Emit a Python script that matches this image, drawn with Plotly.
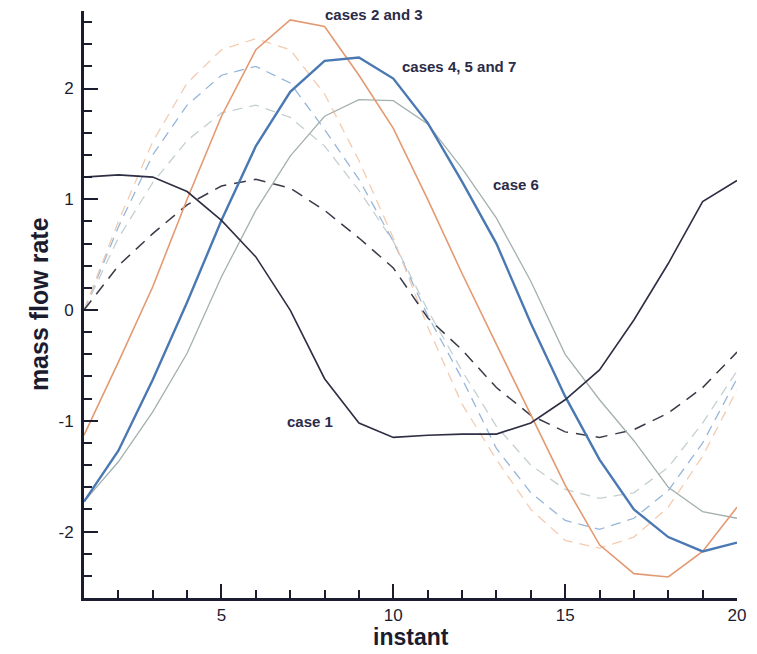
import plotly.graph_objects as go

instant = list(range(1, 21))

case1 = [1.20, 1.22, 1.20, 1.07, 0.81, 0.48, 0.00, -0.62, -1.02, -1.15,
         -1.13, -1.12, -1.12, -1.02, -0.81, -0.54, -0.09, 0.42, 0.98, 1.17]
cases23 = [-1.13, -0.47, 0.21, 1.00, 1.75, 2.35, 2.62, 2.56, 2.12, 1.64,
           1.00, 0.33, -0.31, -0.95, -1.58, -2.12, -2.38, -2.41, -2.18, -1.78]
cases457 = [-1.73, -1.27, -0.63, 0.07, 0.81, 1.48, 1.97, 2.25, 2.28, 2.09,
            1.69, 1.16, 0.60, -0.12, -0.78, -1.35, -1.80, -2.05, -2.18, -2.10]
case6 = [-1.73, -1.37, -0.92, -0.39, 0.30, 0.90, 1.39, 1.75, 1.90, 1.89,
         1.68, 1.28, 0.83, 0.26, -0.40, -0.81, -1.18, -1.60, -1.82, -1.88]
dash_black = [0.00, 0.40, 0.69, 0.95, 1.12, 1.18, 1.10, 0.90, 0.65, 0.38,
              -0.07, -0.36, -0.70, -0.95, -1.10, -1.15, -1.08, -0.93, -0.70, -0.38]
dash_orange = [0.00, 0.80, 1.52, 2.05, 2.35, 2.45, 2.35, 1.95, 1.35, 0.65,
               -0.15, -0.85, -1.35, -1.80, -2.08, -2.15, -2.05, -1.78, -1.32, -0.72]
dash_blue = [0.00, 0.75, 1.40, 1.85, 2.12, 2.20, 2.05, 1.63, 1.18, 0.62,
             -0.05, -0.62, -1.25, -1.65, -1.90, -1.98, -1.88, -1.63, -1.20, -0.62]
dash_grey = [0.00, 0.65, 1.15, 1.53, 1.78, 1.85, 1.74, 1.48, 1.08, 0.62,
             0.00, -0.55, -1.05, -1.40, -1.62, -1.70, -1.65, -1.42, -1.02, -0.55]

x_tickvals = [5, 10, 15, 20]
x_ticktext = ["5", "10", "15", "20"]
y_tickvals = [-2, -1, 0, 1, 2]
y_ticktext = ["-2", "-1", "0", "1", "2"]

labels = ["cases 2 and 3", "cases 4, 5 and 7", "case 6", "case 1"]
label_x = [9.45, 11.91, 13.58, 7.57]
label_y = [2.67, 2.20, 1.13, -1.01]

fig = go.Figure()

def add(y, color, width, dash="solid"):
    fig.add_trace(go.Scatter(x=instant, y=y, mode="lines",
                             line=dict(color=color, width=width, dash=dash),
                             showlegend=False, hoverinfo="skip"))

add(dash_grey, "#c4d0d0", 1.3, "10px,7px")
add(dash_blue, "#96b6da", 1.3, "10px,7px")
add(dash_orange, "#f4cbb0", 1.3, "10px,7px")
add(dash_black, "#3a3a48", 1.5, "12px,8px")
add(case6, "#a3b1ae", 1.3)
add(cases23, "#e39a72", 1.6)
add(cases457, "#4a78b2", 2.4)
add(case1, "#2e2e44", 1.6)

for t, x, y in zip(labels, label_x, label_y):
    fig.add_annotation(x=x, y=y, text="<b>" + t + "</b>", showarrow=False,
                       font=dict(family="Liberation Sans, Arial", size=15, color="#2b2b48"),
                       xanchor="center", yanchor="middle")

axis_common = dict(showgrid=False, zeroline=False, showline=True, linecolor="#1c1c30",
                   linewidth=3, ticks="inside", tickwidth=2, tickcolor="#1c1c30",
                   tickfont=dict(family="Liberation Sans, Arial", size=17, color="#1c1c30"))

fig.update_xaxes(range=[1, 20], tickmode="array", tickvals=x_tickvals, ticktext=x_ticktext,
                 ticklen=14,
                 minor=dict(ticks="inside", dtick=1, tick0=0, ticklen=8, tickwidth=1.5,
                            tickcolor="#1c1c30"),
                 **axis_common)
fig.update_yaxes(range=[-2.6, 2.7], tickmode="array", tickvals=y_tickvals, ticktext=y_ticktext,
                 ticklen=14, ticklabelstandoff=4,
                 minor=dict(ticks="inside", dtick=0.2, tick0=0, ticklen=8, tickwidth=1.5,
                            tickcolor="#1c1c30"),
                 **axis_common)

fig.add_annotation(xref="paper", yref="paper", x=-0.094, y=0.5, text="<b>mass flow rate</b>",
                   textangle=-90, showarrow=False,
                   font=dict(family="Liberation Sans, Arial", size=25, color="#1c1c30"))
fig.add_annotation(xref="paper", yref="paper", x=0.5, y=-0.091, yanchor="bottom",
                   borderpad=0, text="<b>instant</b>", showarrow=False,
                   font=dict(family="Liberation Sans, Arial", size=23, color="#1c1c30"))

fig.update_layout(width=757, height=654, margin=dict(l=84, r=16, t=11, b=56),
                  plot_bgcolor="white", paper_bgcolor="white")

fig.write_html("out.html")
